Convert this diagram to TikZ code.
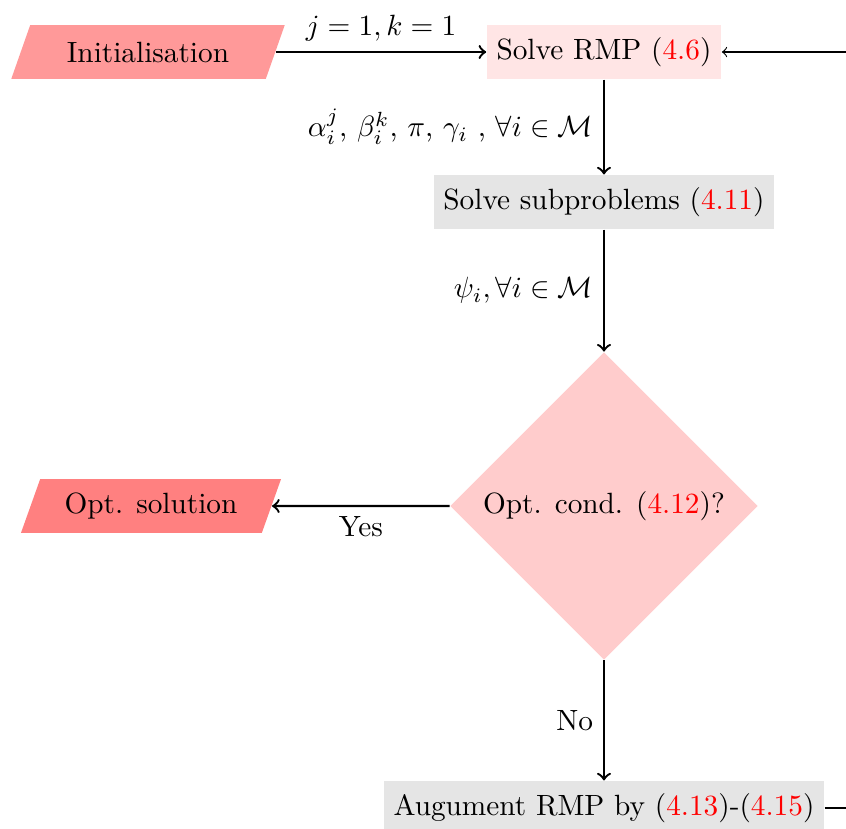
\documentclass[tikz,border=0pt]{standalone}
\usetikzlibrary{shapes.geometric}
\begin{document}
\begin{tikzpicture}[x=0.3413pt,y=-0.3413pt,
  boxnode/.style={rectangle, minimum height=18.4pt, inner sep=3.33pt},
  para/.style={trapezium, trapezium left angle=70, trapezium right angle=110,
    trapezium stretches=true, minimum height=18.4pt, inner sep=3.33pt},
  flow/.style={->, thick},
  loopline/.style={->}]
\useasboundingbox (0,0) rectangle (846,828);
\clip (0,0) rectangle (846,828);
\node[para, fill=red!40, minimum width=94pt] (init) at (148,52) {Initialisation};
\node[boxnode, fill=red!10] (rmp) at (604,52) {Solve RMP (\textcolor{red}{4.6})};
\node[boxnode, fill=gray!20] (sub) at (604,202) {Solve subproblems (\textcolor{red}{4.11})};
\node[diamond, fill=red!20, minimum width=105pt, minimum height=105pt, inner sep=0pt] (cond) at (604,506) {Opt. cond. (\textcolor{red}{4.12})?};
\node[para, fill=red!50, minimum width=89.4pt] (opt) at (151,506) {Opt. solution};
\node[boxnode, fill=gray!20] (aug) at (604,808) {Augument RMP by (\textcolor{red}{4.13})-(\textcolor{red}{4.15})};
\coordinate (loopc) at (880,430);
\draw[flow] (init) -- node[above] {$j=1,k=1$} (rmp);
\draw[flow] (rmp) -- node[left] {$\alpha_i^j$, $\beta_i^k$, $\pi$, $\gamma_i$ , $\forall i\in\mathcal{M}$} (sub);
\draw[flow] (sub) -- node[left] {$\psi_i, \forall i\in\mathcal{M}$} (cond);
\draw[flow] (cond) -- node[below] {Yes} (opt);
\draw[flow] (cond) -- node[left] {No} (aug);
\draw[loopline] (aug.east) -| (loopc) |- (rmp.east);
\end{tikzpicture}
\end{document}
